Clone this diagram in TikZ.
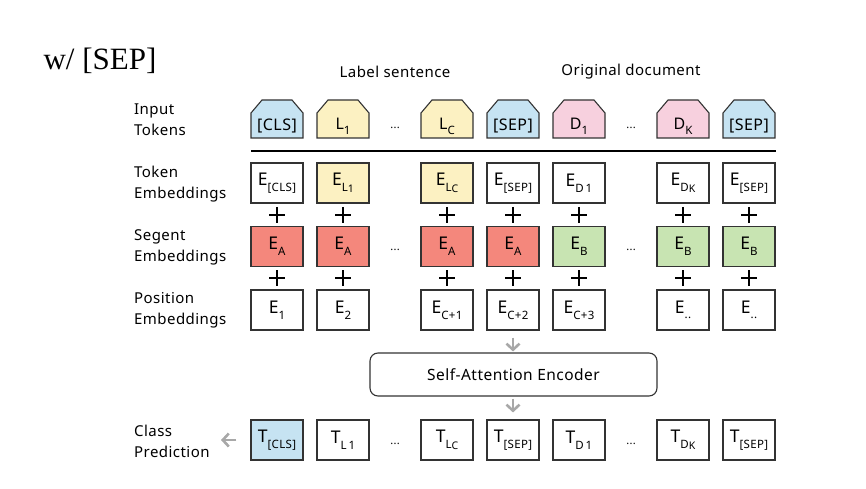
\documentclass[tikz,border=0pt]{standalone}
\usepackage{fontspec}
\setmainfont{Noto Sans}[LetterSpace=3]
\newfontfamily\serifttl{Liberation Serif}
\usetikzlibrary{arrows.meta,calc}
\definecolor{cblue}{HTML}{C6E3F2}
\definecolor{cyel}{HTML}{FCF1C2}
\definecolor{cpink}{HTML}{F7D0DE}
\definecolor{cred}{HTML}{F4877C}
\definecolor{cgreen}{HTML}{C8E4B2}
\definecolor{cline}{HTML}{333333}
\definecolor{carr}{HTML}{A8A8A8}
\newcommand\sbs[1]{\raisebox{-0.6ex}{\fontsize{11.5}{11.5}\selectfont #1}}
\newcommand\ssbs[1]{\raisebox{-0.3ex}{\fontsize{10.5}{10.5}\selectfont #1}}
\newcommand\tokshape[4]{%
  \draw[tokline, fill=#3] ({#2-26},138) -- ({#2-26},113) -- ({#2-15},100) -- ({#2+15},100) -- ({#2+26},113) -- ({#2+26},138) -- cycle;
  \node[toktext] (#1) at (#2,126) {#4};}
\begin{document}
\begin{tikzpicture}[x=1pt,y=-1pt,
  tokline/.style={draw=cline, line width=1.1pt, line join=miter},
  toktext/.style={inner sep=0pt, font=\fontsize{16}{18}\selectfont},
  emb/.style={draw=cline, line width=1.1pt, minimum width=52pt, minimum height=40pt, inner sep=0pt, font=\fontsize{17.5}{19}\selectfont},
  lbl/.style={anchor=west, align=left, inner sep=0pt, font=\fontsize{15}{21}\selectfont},
  ttl/.style={inner sep=0pt, font=\fontsize{15}{17}\selectfont},
  dots/.style={inner sep=0pt, font=\fontsize{11}{12}\selectfont},
  plusv/.style={line width=2pt, draw=black},
  garrow/.style={draw=carr, line width=2.6pt, -{Straight Barb[length=6pt,width=13pt,line width=2.6pt]}},
  encbox/.style={draw=cline, line width=1.1pt, rounded corners=8pt, minimum width=287pt, minimum height=43pt, inner sep=0pt, font=\fontsize{15.5}{18}\selectfont}
]
\useasboundingbox (0,0) rectangle (866,489);

% title
\node[inner sep=0pt, font=\serifttl\fontsize{31}{34}\selectfont] (title) at (100,61) {w/ [SEP]};
\node[ttl] (lsent) at (395,72) {Label sentence};
\node[ttl] (odoc) at (631,72) {Original document};

% row labels
\node[lbl] (lin) at (134,120) {Input\\Tokens};
\node[lbl] (ltok) at (134,184) {Token\\Embeddings};
\node[lbl] (lseg) at (134,247) {Segent\\Embeddings};
\node[lbl] (lpos) at (134,310) {Position\\Embeddings};
\node[lbl] (lcls) at (134,441) {Class\\Prediction};

% input tokens
\tokshape{i1}{277}{cblue}{[CLS]}
\tokshape{i2}{343}{cyel}{L\sbs{1}}
\tokshape{i3}{447}{cyel}{L\sbs{C}}
\tokshape{i4}{513}{cblue}{[SEP]}
\tokshape{i5}{579}{cpink}{D\sbs{1}}
\tokshape{i6}{683}{cpink}{D\sbs{K}}
\tokshape{i7}{749}{cblue}{[SEP]}
\node[dots] (id1) at (395,128) {...};
\node[dots] (id2) at (631,128) {...};

\coordinate (sepL) at (251,151);
\coordinate (sepR) at (776,151);
\draw[line width=1.4pt, draw=black] (sepL) -- (sepR);

% token embeddings
\node[emb] (t1) at (277,183) {E\sbs{[CLS]}};
\node[emb, fill=cyel] (t2) at (343,183) {E\sbs{L\ssbs{1}}};
\node[emb, fill=cyel] (t3) at (447,183) {E\sbs{L\ssbs{C}}};
\node[emb] (t4) at (513,183) {E\sbs{[SEP]}};
\node[emb] (t5) at (579,183) {E\sbs{D\,1}};
\node[emb] (t6) at (683,183) {E\sbs{D\ssbs{K}}};
\node[emb] (t7) at (749,183) {E\sbs{[SEP]}};

% segment embeddings
\node[emb, fill=cred] (s1) at (277,246.5) {E\sbs{A}};
\node[emb, fill=cred] (s2) at (343,246.5) {E\sbs{A}};
\node[emb, fill=cred] (s3) at (447,246.5) {E\sbs{A}};
\node[emb, fill=cred] (s4) at (513,246.5) {E\sbs{A}};
\node[emb, fill=cgreen] (s5) at (579,246.5) {E\sbs{B}};
\node[emb, fill=cgreen] (s6) at (683,246.5) {E\sbs{B}};
\node[emb, fill=cgreen] (s7) at (749,246.5) {E\sbs{B}};
\node[dots] (sd1) at (395,250) {...};
\node[dots] (sd2) at (631,250) {...};

% position embeddings
\node[emb] (p1) at (277,310) {E\sbs{1}};
\node[emb] (p2) at (343,310) {E\sbs{2}};
\node[emb] (p3) at (447,310) {E\sbs{C+1}};
\node[emb] (p4) at (513,310) {E\sbs{C+2}};
\node[emb] (p5) at (579,310) {E\sbs{C+3}};
\node[emb] (p6) at (683,310) {E\sbs{..}};
\node[emb] (p7) at (749,310) {E\sbs{..}};

% plus signs
\foreach \c in {1,...,7}{
  \draw[plusv] ($(t\c.south)!0.5!(s\c.north)+(0,-8)$) -- ($(t\c.south)!0.5!(s\c.north)+(0,8)$);
  \draw[plusv] ($(t\c.south)!0.5!(s\c.north)+(-8,0)$) -- ($(t\c.south)!0.5!(s\c.north)+(8,0)$);
  \draw[plusv] ($(s\c.south)!0.5!(p\c.north)+(0,-8)$) -- ($(s\c.south)!0.5!(p\c.north)+(0,8)$);
  \draw[plusv] ($(s\c.south)!0.5!(p\c.north)+(-8,0)$) -- ($(s\c.south)!0.5!(p\c.north)+(8,0)$);
}

% encoder
\node[encbox] (enc) at (513.5,374.5) {Self-Attention Encoder};

% outputs
\node[emb, fill=cblue] (o1) at (277,440) {T\sbs{[CLS]}};
\node[emb] (o2) at (343,440) {T\sbs{L\,1}};
\node[emb] (o3) at (447,440) {T\sbs{L\ssbs{C}}};
\node[emb] (o4) at (513,440) {T\sbs{[SEP]}};
\node[emb] (o5) at (579,440) {T\sbs{D\,1}};
\node[emb] (o6) at (683,440) {T\sbs{D\ssbs{K}}};
\node[emb] (o7) at (749,440) {T\sbs{[SEP]}};
\node[dots] (od1) at (395,444) {...};
\node[dots] (od2) at (631,444) {...};

% arrows
\draw[garrow, shorten <=7pt, shorten >=1pt] (p4.south) -- (p4.south |- enc.north);
\draw[garrow, shorten <=2pt, shorten >=7pt] (enc.south -| o4) -- (o4.north);
\coordinate (clsout) at (221,440);
\draw[garrow, shorten <=14pt] (o1.west) -- (clsout);
\end{tikzpicture}
\end{document}
